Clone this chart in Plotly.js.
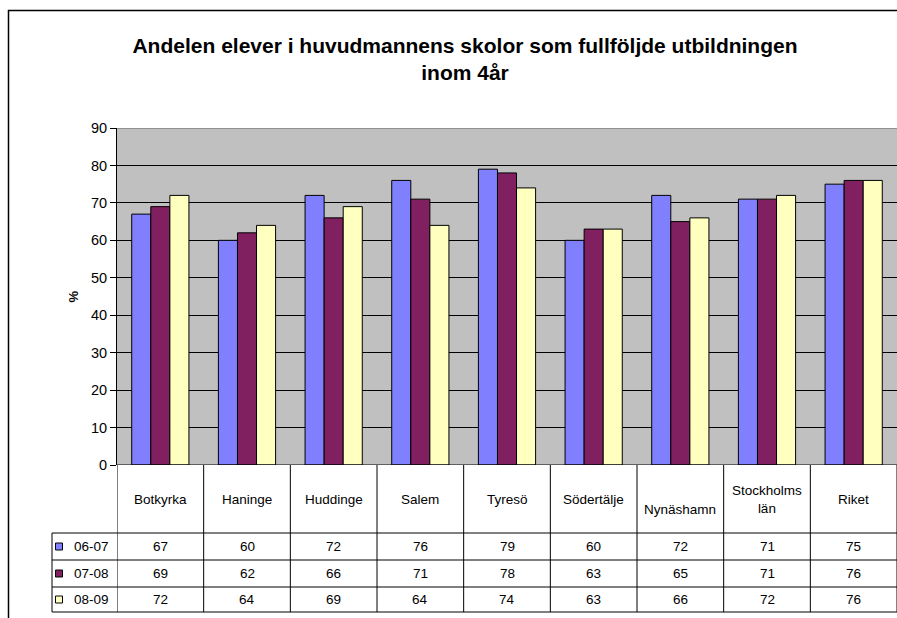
<!DOCTYPE html>
<html>
<head>
<meta charset="utf-8">
<script src="https://cdn.plot.ly/plotly-3.0.1.min.js"></script>
<style>html,body{margin:0;padding:0;background:#fff;}#chart{width:897px;height:618px;}</style>
</head>
<body>
<div id="chart"></div>
<script>
const categories = ["Botkyrka","Haninge","Huddinge","Salem","Tyresö","Södertälje","Nynäshamn","Stockholms<br>län","Riket"];
const seriesNames = ["06-07","07-08","08-09"];
const s0607 = [67,60,72,76,79,60,72,71,75];
const s0708 = [69,62,66,71,78,63,65,71,76];
const s0809 = [72,64,69,64,74,63,66,72,76];
const yTicks = [0,10,20,30,40,50,60,70,80,90];

const colors = ["#8080FF","#802060","#FFFFC0"];
const seriesVals = [s0607, s0708, s0809];
const FONT = 'Liberation Sans, Arial, sans-serif';

const W = 897, H = 618;
const L = 117, R = 0, T = 128, B = 153;
const PW = W - L - R, PH = H - T - B;
const px2x = p => (p - L) / PW;           // paper x
const py2y = p => (H - B - p) / PH;       // paper y
const xs = categories.map((_, i) => i);

const traces = seriesVals.map((vals, k) => ({
  type: 'bar',
  x: xs,
  y: vals,
  name: seriesNames[k],
  marker: {color: colors[k], line: {color: '#000', width: 1}},
  hoverinfo: 'y'
}));

const shapes = [];
const annotations = [];
const line = (x0, y0, x1, y1, xref, yref, color, width) => shapes.push({
  type: 'line', x0, y0, x1, y1, xref: xref, yref: yref,
  line: {color: color || '#000', width: width || 1}, layer: 'above'
});

// outer frame
shapes.push({type:'rect', xref:'paper', yref:'paper', x0: px2x(8.5), x1: px2x(905), y0: py2y(10.5), y1: py2y(630),
  line:{color:'#000', width:1.5}, fillcolor:'rgba(0,0,0,0)', layer:'below'});

// top plot border gray
line(-0.5, 90, 8.5, 90, 'x', 'y', '#808080', 1.5);

// table lines
const rowY = [465, 533, 560, 587, 612];
for (let i = 0; i <= categories.length; i++) {
  line(i - 0.5, py2y(465), i - 0.5, py2y(612), 'x', 'paper');
}
line(px2x(52), py2y(533), px2x(52), py2y(612), 'paper', 'paper');
for (let r = 1; r < rowY.length; r++) {
  line(px2x(52), py2y(rowY[r]), 1.01, py2y(rowY[r]), 'paper', 'paper');
}
line(-0.5, 0, 8.5, 0, 'x', 'y');

// header labels
categories.forEach((c, i) => {
  let yc = 499;
  if (c === "Nynäshamn") yc = 509;
  annotations.push({x: i, y: py2y(yc), xref: 'x', yref: 'paper', text: c, showarrow: false,
    font: {family: FONT, size: 13.5, color: '#000'}, yanchor: 'middle'});
});

// data rows
const rowCenters = [546.5, 573.5, 599.5];
seriesVals.forEach((vals, k) => {
  // legend key
  shapes.push({type: 'rect', xref: 'paper', yref: 'paper',
    x0: px2x(55.5), x1: px2x(62.5), y0: py2y(rowCenters[k] - 3.5), y1: py2y(rowCenters[k] + 3.5),
    fillcolor: colors[k], line: {color: '#000', width: 1}, layer: 'above'});
  annotations.push({x: px2x(72), y: py2y(rowCenters[k]), xref: 'paper', yref: 'paper', text: seriesNames[k],
    showarrow: false, xanchor: 'left', yanchor: 'middle',
    font: {family: FONT, size: 13.5, color: '#000'}});
  vals.forEach((v, i) => {
    annotations.push({x: i, y: py2y(rowCenters[k]), xref: 'x', yref: 'paper', text: String(v),
      showarrow: false, yanchor: 'middle',
      font: {family: FONT, size: 13.5, color: '#000'}});
  });
});

// y title
annotations.push({x: px2x(63), y: py2y(297), xref: 'paper', yref: 'paper', text: '<b>%</b>', textangle: -90,
  showarrow: false, font: {family: FONT, size: 13, color: '#000'}});

const layout = {
  width: W, height: H,
  margin: {l: L, r: R, t: T, b: B, pad: 0},
  paper_bgcolor: '#fff',
  plot_bgcolor: '#C0C0C0',
  showlegend: false,
  barmode: 'group',
  bargap: 0.34,
  bargroupgap: 0,
  title: {
    text: '<b>Andelen elever i huvudmannens skolor som fullföljde utbildningen<br>inom 4år</b>',
    x: 465 / W, xanchor: 'center', y: 1 - 53 / H, yanchor: 'middle',
    font: {family: FONT, size: 21, color: '#000'}
  },
  xaxis: {
    type: 'linear', range: [-0.5, 8.5], showticklabels: false, showgrid: false,
    zeroline: false, showline: false, ticks: '', fixedrange: true
  },
  yaxis: {
    range: [0, 90], tickvals: yTicks, ticktext: yTicks.map(String),
    showgrid: true, gridcolor: '#000', gridwidth: 1,
    zeroline: false, showline: true, linecolor: '#000', linewidth: 1,
    ticks: 'outside', ticklen: 6, tickcolor: '#000', tickwidth: 1,
    tickfont: {family: FONT, size: 14.5, color: '#000'},
    fixedrange: true
  },
  shapes: shapes,
  annotations: annotations
};

Plotly.newPlot('chart', traces, layout, {displayModeBar: false, staticPlot: true});
</script>
</body>
</html>
